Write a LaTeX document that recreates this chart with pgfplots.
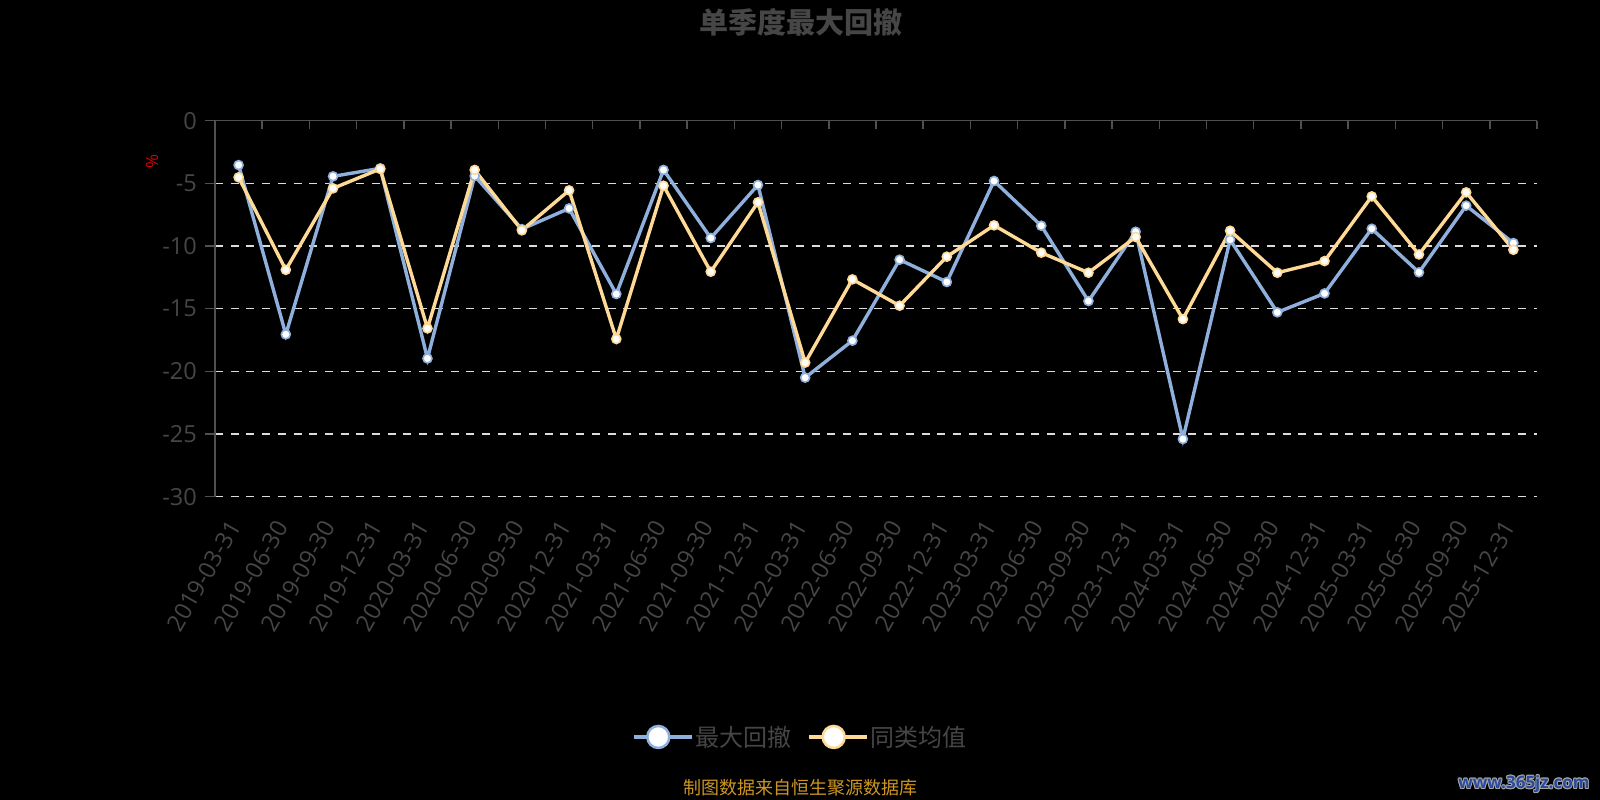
\documentclass[border=0pt]{standalone}
\usepackage{pgfplots}
\pgfplotsset{compat=1.18}
\usepackage{fontspec}
\setmainfont{Open Sans}
\newfontfamily\cjk{Noto Sans CJK SC}
\definecolor{bluec}{RGB}{143,176,220}
\definecolor{yelc}{RGB}{255,217,150}
\definecolor{txtgray}{RGB}{70,70,70}
\definecolor{axgray}{RGB}{80,80,80}
\definecolor{gridc}{RGB}{220,220,220}
\definecolor{srcc}{RGB}{205,150,35}
\definecolor{wmblue}{RGB}{40,75,160}
\newcommand{\fs}[1]{\fontsize{#1}{1.2\dimexpr#1\relax}\selectfont}
\begin{document}
\begin{tikzpicture}
\fill[black] (0,0) rectangle (1600pt,800pt);
% top axis line with inward ticks
\begin{axis}[
  at={(215pt,303.3pt)}, anchor=south west,
  scale only axis, width=1322pt, height=376pt,
  xmin=-0.5, xmax=27.5, ymin=-30, ymax=0,
  axis x line*=top, axis y line=none,
  xtick={-0.5,0.5,...,27.5}, xticklabels={},
  tick align=inside, major tick length=8pt,
  x axis line style={draw=axgray, line width=1.5pt},
  xtick style={draw=axgray, line width=1.5pt},
]
\end{axis}
\begin{axis}[
  at={(215pt,303.3pt)}, anchor=south west,
  scale only axis, width=1322pt, height=376pt,
  xmin=-0.5, xmax=27.5, ymin=-30, ymax=0,
  axis x line*=bottom, axis y line*=left,
  x axis line style={draw=none},
  y axis line style={draw=axgray, line width=1.5pt},
  xtick={0,...,27},
  xticklabels={2019-03-31,2019-06-30,2019-09-30,2019-12-31,2020-03-31,2020-06-30,2020-09-30,2020-12-31,2021-03-31,2021-06-30,2021-09-30,2021-12-31,2022-03-31,2022-06-30,2022-09-30,2022-12-31,2023-03-31,2023-06-30,2023-09-30,2023-12-31,2024-03-31,2024-06-30,2024-09-30,2024-12-31,2025-03-31,2025-06-30,2025-09-30,2025-12-31},
  xtick style={draw=none},
  xticklabel style={xshift=-4pt, yshift=-16pt, rotate=60, anchor=east, font=\fs{23.5pt}, text=txtgray, inner sep=0pt},
  ytick={-30,-25,...,-5},
  yticklabels={-30,-25,-20,-15,-10,-5},
  extra y ticks={0}, extra y tick labels={0},
  extra y tick style={grid=none},
  ytick style={draw=axgray, line width=1.5pt},
  tick align=outside, major tick length=10pt,
  yticklabel style={font=\fs{23.5pt}, text=txtgray, inner sep=0pt, xshift=-8pt},
  ymajorgrids,
  major grid style={draw=gridc, line width=1.5pt, dash pattern=on 8pt off 7.7pt},
  clip=false,
  legend style={at={(axis description cs:0.4429,-0.639)}, anchor=center, draw=none, fill=none,
    font=\cjk\fs{24pt}, text=txtgray, legend columns=2,
    /tikz/every even column/.append style={column sep=14pt},
    legend cell align=left},
  legend image code/.code={
    \path (0pt,0pt) -- (58pt,0pt);
    \draw[#1, line width=2pt] (0pt,0pt) -- (49pt,0pt);
    \draw[#1, fill=white, line width=2.5pt] (24.5pt,0pt) circle (11pt);
  },
]
\addplot[color=bluec, line width=3.4pt, mark=*, mark size=4.5pt, mark options={fill=white, draw=bluec, line width=1.6pt}]
 coordinates {(0,-3.54) (1,-17.05) (2,-4.44) (3,-3.80) (4,-18.97) (5,-4.41) (6,-8.65) (7,-7.00) (8,-13.83) (9,-3.93) (10,-9.36) (11,-5.13) (12,-20.50) (13,-17.55) (14,-11.09) (15,-12.87) (16,-4.81) (17,-8.38) (18,-14.39) (19,-8.86) (20,-25.40) (21,-9.50) (22,-15.29) (23,-13.78) (24,-8.62) (25,-12.10) (26,-6.78) (27,-9.76)};
\addlegendentry{最大回撤}
\addplot[color=yelc, line width=3.4pt, mark=*, mark size=4.5pt, mark options={fill=white, draw=yelc, line width=1.6pt}]
 coordinates {(0,-4.52) (1,-11.90) (2,-5.40) (3,-3.85) (4,-16.57) (5,-3.93) (6,-8.75) (7,-5.56) (8,-17.42) (9,-5.19) (10,-12.05) (11,-6.51) (12,-19.30) (13,-12.66) (14,-14.76) (15,-10.85) (16,-8.35) (17,-10.53) (18,-12.13) (19,-9.28) (20,-15.83) (21,-8.78) (22,-12.13) (23,-11.20) (24,-6.04) (25,-10.67) (26,-5.72) (27,-10.30)};
\addlegendentry{同类均值}
\end{axis}
\node[font=\cjk\bfseries\fs{29pt}, text=txtgray] at (800.5pt,778pt) {单季度最大回撤};
\node[font=\fs{17pt}, text=red!85!black, rotate=90] at (152pt,638pt) {\%};
\node[font=\cjk\fs{18pt}, text=srcc] at (800pt,12pt) {制图数据来自恒生聚源数据库};
\foreach \dx/\dy in {0.9/0,-0.9/0,0/0.9,0/-0.9,0.7/0.7,-0.7/-0.7,0.7/-0.7,-0.7/0.7}
  \node[font=\bfseries\fs{17pt}, text=gray!70, anchor=east] at ([xshift=\dx pt, yshift=\dy pt]1593pt,16pt) {www.365jz.com};
\node[font=\bfseries\fs{17pt}, text=wmblue, anchor=east] at (1593pt,16pt) {www.365jz.com};
\pgfresetboundingbox
\path[use as bounding box] (0,0) rectangle (1600pt,800pt);
\end{tikzpicture}
\end{document}
